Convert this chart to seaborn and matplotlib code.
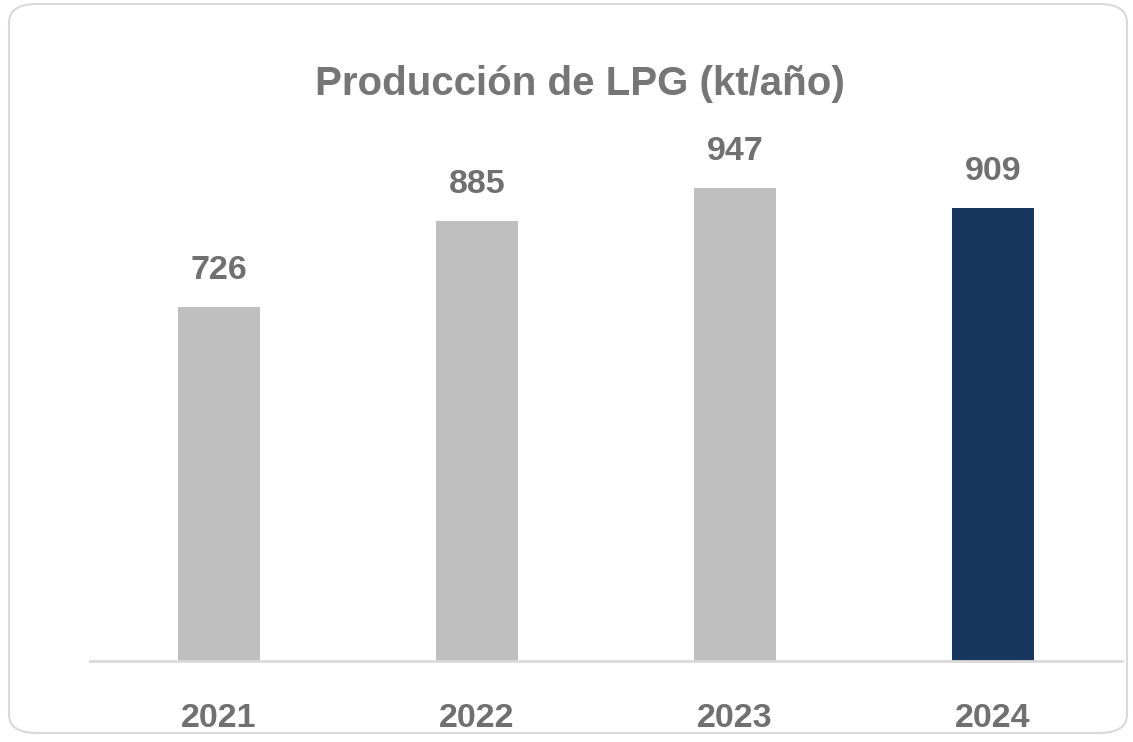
import matplotlib
matplotlib.use("Agg")
import matplotlib.pyplot as plt
from matplotlib.patches import FancyBboxPatch
import seaborn as sns
import pandas as pd

years = ["2021", "2022", "2023", "2024"]
production = [726, 885, 947, 909]
bar_colors = ["#BFBFBF", "#BFBFBF", "#BFBFBF", "#17375E"]
title = "Producción de LPG (kt/año)"

sns.set_style("white")
plt.rcParams['font.family'] = ['Liberation Sans', 'DejaVu Sans']
text_col = "#707070"

df = pd.DataFrame({"Year": years, "Prod": production})

fig = plt.figure(figsize=(11.33, 7.42), dpi=100)
# rounded frame of the chart area
frame = FancyBboxPatch((9 / 1133, 9 / 742), 1118 / 1133, 729 / 742,
                       boxstyle="round,pad=0,rounding_size=0.025",
                       transform=fig.transFigure, facecolor="none",
                       edgecolor="#D9D9D9", linewidth=1.5, zorder=-1)
fig.patches.append(frame)

ax = fig.add_axes([90 / 1133, 81 / 742, 1032 / 1133, 531 / 742])
ax.set_facecolor("none")
sns.barplot(data=df, x="Year", y="Prod", hue="Year", palette=bar_colors,
            width=0.318, legend=False, ax=ax, saturation=1, linewidth=0)

ax.set_ylim(70, 1054)
ax.set_xlim(-0.5, 3.5)
for side in ["left", "right", "top"]:
    ax.spines[side].set_visible(False)
ax.spines["bottom"].set_color("#D9D9D9")
ax.spines["bottom"].set_linewidth(2)
ax.set_yticks([])
ax.set_xlabel("")
ax.set_ylabel("")
ax.tick_params(axis="x", length=0, pad=30, labelsize=24.5, labelcolor=text_col)
for lbl in ax.get_xticklabels():
    lbl.set_fontweight("bold")

for i, v in enumerate(production):
    ax.annotate(str(v), (i, v), xytext=(0, 20), textcoords="offset points",
                ha="center", va="baseline", fontsize=24.5, fontweight="bold",
                color=text_col)

fig.text(580 / 1133, 1 - 95 / 742, title, ha="center", va="baseline",
         fontsize=29, fontweight="bold", color="#767676")

fig.savefig("out.png", dpi=100)
